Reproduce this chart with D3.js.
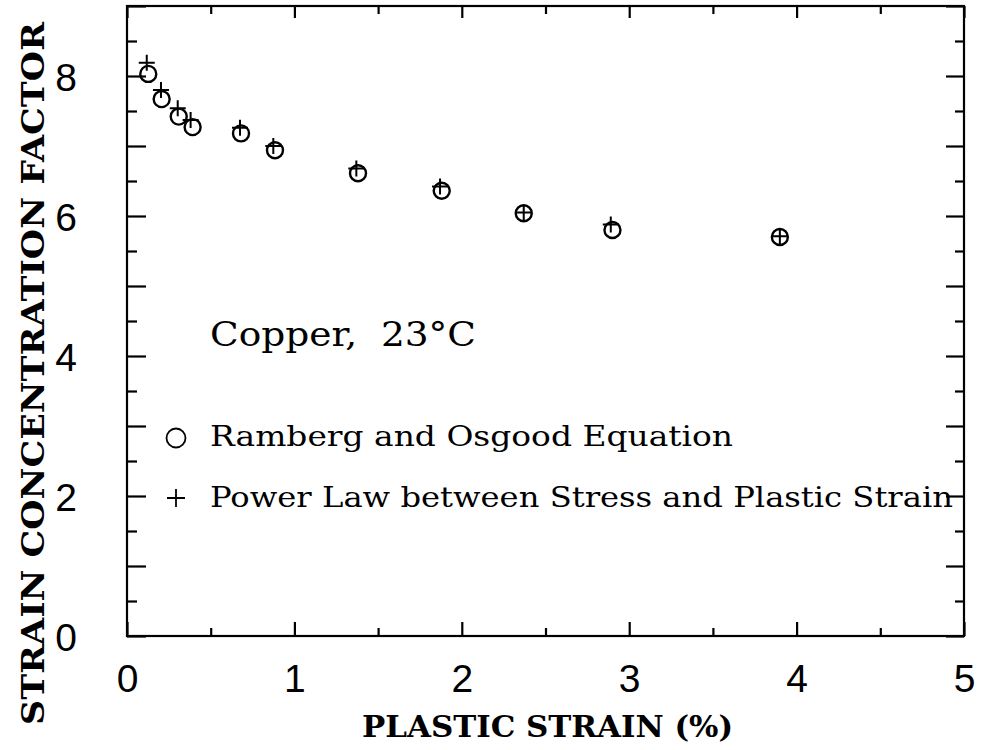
<!DOCTYPE html>
<html>
<head>
<meta charset="utf-8">
<script src="https://cdn.jsdelivr.net/npm/d3@7"></script>
<style>
  html, body { margin: 0; padding: 0; background: #fff; }
  svg { display: block; }
</style>
</head>
<body>
<svg id="chart" width="987" height="750"></svg>
<script>
// Plastic strain (%) at which each strain concentration factor was computed
const strainRO  = [0.127, 0.207, 0.309, 0.392, 0.681, 0.884, 1.38, 1.88, 2.37, 2.90, 3.90];
const factorRO  = [8.03, 7.67, 7.42, 7.27, 7.18, 6.94, 6.61, 6.36, 6.04, 5.80, 5.70];
const strainPL  = [0.118, 0.203, 0.303, 0.380, 0.675, 0.874, 1.37, 1.87, 2.37, 2.89, 3.90];
const factorPL  = [8.19, 7.80, 7.54, 7.37, 7.26, 7.00, 6.68, 6.42, 6.05, 5.88, 5.71];

const xTickLabels = [0, 1, 2, 3, 4, 5];
const yTickLabels = [0, 2, 4, 6, 8];
const legendLabels = ["Ramberg and Osgood Equation", "Power Law between Stress and Plastic Strain"];
const noteText = "Copper,  23°C";
const xTitle = "PLASTIC STRAIN (%)";
const yTitle = "STRAIN CONCENTRATION FACTOR";

const svg = d3.select("#chart");
const plotLeft = 127, plotRight = 964, plotTop = 6, plotBottom = 636;

const x = d3.scaleLinear().domain([0, 5]).range([plotLeft, plotRight]);
const y = d3.scaleLinear().domain([0, 9]).range([plotBottom, plotTop]);

const xMajor = d3.range(0, 5.01, 1);
const xMinor = d3.range(0.5, 5, 1);
const yMajor = d3.range(0, 9.01, 1);
const yMinor = d3.range(0.5, 9, 1);

const axisStroke = 2.2;

// Frame
svg.append("rect")
  .attr("x", plotLeft).attr("y", plotTop)
  .attr("width", plotRight - plotLeft).attr("height", plotBottom - plotTop)
  .attr("fill", "none").attr("stroke", "#000").attr("stroke-width", axisStroke);

function tickGroup(axis, transform) {
  const g = svg.append("g").attr("transform", transform).call(axis);
  g.select(".domain").remove();
  g.selectAll(".tick line").attr("stroke", "#000").attr("stroke-width", axisStroke);
  g.selectAll("text").remove();
  return g;
}

// Inward ticks on all four sides
tickGroup(d3.axisBottom(x).tickValues(xMajor).tickSize(-14), `translate(0,${plotBottom})`);
tickGroup(d3.axisBottom(x).tickValues(xMinor).tickSize(-8), `translate(0,${plotBottom})`);
tickGroup(d3.axisTop(x).tickValues(xMajor).tickSize(-12), `translate(0,${plotTop})`);
tickGroup(d3.axisTop(x).tickValues(xMinor).tickSize(-8), `translate(0,${plotTop})`);
tickGroup(d3.axisLeft(y).tickValues(yMajor).tickSize(-19), `translate(${plotLeft},0)`);
tickGroup(d3.axisLeft(y).tickValues(yMinor).tickSize(-10), `translate(${plotLeft},0)`);
tickGroup(d3.axisRight(y).tickValues(yMajor).tickSize(-18), `translate(${plotRight},0)`);
tickGroup(d3.axisRight(y).tickValues(yMinor).tickSize(-9), `translate(${plotRight},0)`);

// Tick labels
const labelFont = "'Liberation Sans', Arial, sans-serif";
const xl = svg.append("g").attr("transform", `translate(0,${plotBottom})`)
  .call(d3.axisBottom(x).tickValues(xTickLabels).tickSize(0).tickPadding(0).tickFormat(d3.format("d")));
xl.select(".domain").remove();
xl.selectAll("text").attr("font-family", labelFont).attr("font-size", 39)
  .attr("fill", "#000").attr("dy", null).attr("y", 56);

const yl = svg.append("g").attr("transform", `translate(${plotLeft},0)`)
  .call(d3.axisLeft(y).tickValues(yTickLabels).tickSize(0).tickPadding(50).tickFormat(d3.format("d")));
yl.select(".domain").remove();
yl.selectAll("text").attr("font-family", labelFont).attr("font-size", 39)
  .attr("fill", "#000").attr("dy", "0.36em");

// Axis titles
const serif = "'DejaVu Serif', 'Liberation Serif', serif";
svg.append("text")
  .attr("x", 362).attr("y", 737)
  .attr("font-family", serif).attr("font-weight", "bold").attr("font-size", 30)
  .attr("textLength", 371).attr("lengthAdjust", "spacingAndGlyphs")
  .text(xTitle);

svg.append("text")
  .attr("transform", "translate(44,725) rotate(-90)")
  .attr("font-family", serif).attr("font-weight", "bold").attr("font-size", 32)
  .attr("textLength", 703).attr("lengthAdjust", "spacingAndGlyphs")
  .text(yTitle);

// Annotation
svg.append("text")
  .attr("x", 210).attr("y", 346)
  .attr("font-family", serif).attr("font-size", 33)
  .attr("textLength", 266).attr("lengthAdjust", "spacingAndGlyphs")
  .attr("xml:space", "preserve")
  .text(noteText);

// Data markers
const ro = svg.append("g");
ro.selectAll("circle").data(strainRO).join("circle")
  .attr("cx", (d) => x(d))
  .attr("cy", (d, i) => y(factorRO[i]))
  .attr("r", 8)
  .attr("fill", "none").attr("stroke", "#000").attr("stroke-width", 2.4);

const pl = svg.append("g");
pl.selectAll("path").data(strainPL).join("path")
  .attr("transform", (d, i) => `translate(${x(d)},${y(factorPL[i])})`)
  .attr("d", "M-8,0H8M0,-8V8")
  .attr("fill", "none").attr("stroke", "#000").attr("stroke-width", 2);

// Legend
const lg = svg.append("g");
lg.append("circle").attr("cx", 176).attr("cy", 438).attr("r", 9.5)
  .attr("fill", "none").attr("stroke", "#000").attr("stroke-width", 1.8);
lg.append("path").attr("transform", "translate(176,498)")
  .attr("d", "M-9,0H9M0,-9V9")
  .attr("fill", "none").attr("stroke", "#000").attr("stroke-width", 1.8);
lg.append("text").attr("x", 210).attr("y", 446)
  .attr("font-family", serif).attr("font-size", 28)
  .attr("textLength", 523).attr("lengthAdjust", "spacingAndGlyphs")
  .text(legendLabels[0]);
lg.append("text").attr("x", 210).attr("y", 507)
  .attr("font-family", serif).attr("font-size", 28)
  .attr("textLength", 743).attr("lengthAdjust", "spacingAndGlyphs")
  .text(legendLabels[1]);
</script>
</body>
</html>
